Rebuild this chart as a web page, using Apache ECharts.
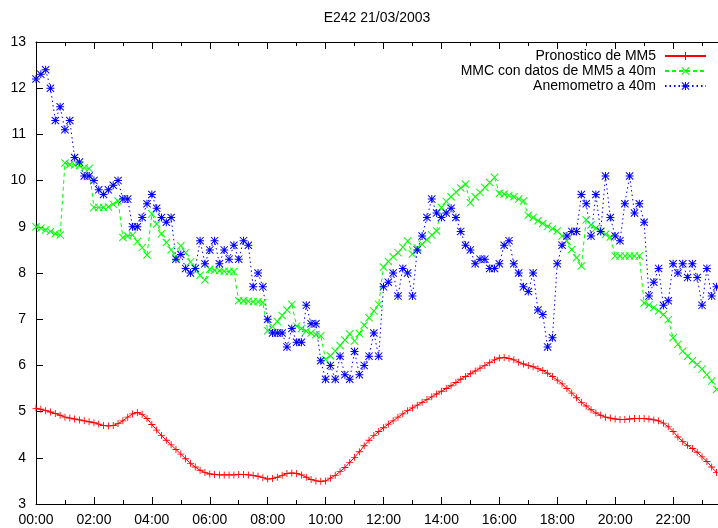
<!DOCTYPE html>
<html>
<head>
<meta charset="utf-8">
<script src="https://cdn.jsdelivr.net/npm/echarts@6/dist/echarts.min.js"></script>
<style>
  html, body { margin: 0; padding: 0; background: #fff; }
  #chart { width: 718px; height: 528px; }
</style>
</head>
<body>
<div id="chart"></div>
<script>
// readings every 10 minutes, starting at 00:00
const STEP_MIN = 10

const pronosticoMM5 = [
  5.07, 5.05, 5.02, 4.99, 4.96, 4.92,
  4.88, 4.86, 4.84, 4.82, 4.80, 4.78,
  4.76, 4.73, 4.70, 4.69, 4.70, 4.74,
  4.80, 4.88, 4.95, 4.98, 4.94, 4.85,
  4.72, 4.60, 4.48, 4.38, 4.28, 4.18,
  4.08, 3.98, 3.88, 3.80, 3.73, 3.68,
  3.65, 3.64, 3.63, 3.63, 3.63, 3.63,
  3.64, 3.64, 3.63, 3.62, 3.60, 3.57,
  3.54, 3.55, 3.58, 3.62, 3.66, 3.67,
  3.66, 3.63, 3.58, 3.53, 3.50, 3.49,
  3.50, 3.56, 3.62, 3.70, 3.79, 3.90,
  4.01, 4.13, 4.26, 4.38, 4.48, 4.57,
  4.65, 4.73, 4.80, 4.88, 4.95, 5.02,
  5.08, 5.14, 5.20, 5.26, 5.32, 5.38,
  5.44, 5.50, 5.56, 5.63, 5.70, 5.76,
  5.82, 5.88, 5.94, 6.00, 6.06, 6.12,
  6.16, 6.17, 6.15, 6.12, 6.07, 6.03,
  6.00, 5.97, 5.93, 5.89, 5.83, 5.76,
  5.68, 5.60, 5.50, 5.40, 5.30, 5.20,
  5.12, 5.04, 4.97, 4.92, 4.88, 4.86,
  4.84, 4.83, 4.83, 4.84, 4.85, 4.85,
  4.85, 4.84, 4.82, 4.80, 4.75, 4.67,
  4.57, 4.45, 4.35, 4.27, 4.20, 4.12,
  4.02, 3.92, 3.80, 3.68
]

const mmcMM5 = [
  9.00, 8.97, 8.93, 8.90, 8.85, 8.82,
  10.38, 10.35, 10.34, 10.32, 10.28, 10.26,
  9.42, 9.42, 9.42, 9.43, 9.49, 9.56,
  8.77, 8.80, 8.82, 8.68, 8.55, 8.39,
  9.28, 9.06, 8.85, 8.66, 8.50, 8.33,
  8.59, 8.44, 8.24, 8.10, 7.95, 7.85,
  8.08, 8.06, 8.05, 8.04, 8.03, 8.03,
  7.40, 7.40, 7.39, 7.38, 7.38, 7.36,
  6.75, 6.84, 6.95, 7.08, 7.20, 7.32,
  6.85, 6.80, 6.74, 6.70, 6.67, 6.64,
  6.13, 6.21, 6.31, 6.43, 6.55, 6.68,
  6.53, 6.69, 6.87, 7.03, 7.18, 7.32,
  8.13, 8.25, 8.35, 8.44, 8.56, 8.69,
  8.41, 8.54, 8.62, 8.72, 8.82, 8.91,
  9.42, 9.55, 9.65, 9.75, 9.84, 9.92,
  9.52, 9.65, 9.74, 9.85, 9.96, 10.07,
  9.72, 9.71, 9.68, 9.65, 9.60, 9.56,
  9.25, 9.20, 9.13, 9.07, 9.01, 8.96,
  8.91, 8.80, 8.69, 8.51, 8.33, 8.15,
  9.15, 9.04, 8.97, 8.90, 8.84, 8.78,
  8.37, 8.37, 8.37, 8.37, 8.37, 8.37,
  7.35, 7.31, 7.25, 7.18, 7.10, 6.99,
  6.60, 6.46, 6.31, 6.20, 6.10, 6.02,
  5.92, 5.80, 5.66, 5.48
]

const anemometro = [
  12.2, 12.3, 12.4, 12.0, 11.3, 11.6,
  11.1, 11.3, 10.5, 10.4, 10.1, 10.1,
  10.0, 9.8, 9.7, 9.8, 9.9, 10.0,
  9.6, 9.6, 9.0, 9.0, 9.2, 9.5,
  9.7, 9.4, 9.2, 9.1, 9.2, 8.3,
  8.4, 8.1, 8.0, 8.1, 8.7, 8.2,
  8.5, 8.7, 8.2, 8.5, 8.3, 8.6,
  8.3, 8.7, 8.6, 7.7, 8.0, 7.7,
  7.0, 6.7, 6.7, 6.7, 6.4, 6.8,
  6.5, 6.5, 7.3, 6.9, 6.9, 6.1,
  5.7, 6.0, 5.7, 6.2, 5.8, 5.7,
  6.3, 5.8, 6.0, 6.2, 6.7, 6.2,
  7.7, 7.8, 8.0, 7.5, 8.1, 8.0,
  7.5, 8.5, 8.8, 9.2, 9.6, 9.3,
  9.2, 9.3, 9.4, 9.2, 8.9, 8.6,
  8.5, 8.2, 8.3, 8.3, 8.1, 8.1,
  8.2, 8.6, 8.7, 8.2, 8.0, 7.7,
  7.6, 8.0, 7.2, 7.1, 6.4, 6.6,
  8.2, 8.6, 8.8, 8.9, 8.9, 9.7,
  9.5, 8.8, 9.7, 8.9, 10.1, 9.2,
  8.8, 8.7, 9.5, 10.1, 9.3, 9.5,
  9.1, 7.5, 7.8, 8.1, 7.3, 7.4,
  8.2, 8.0, 8.2, 7.9, 8.2, 7.9,
  7.3, 8.1, 7.5, 7.7
]

const seriesNames = ['Pronostico de MM5', 'MMC con datos de MM5 a 40m', 'Anemometro a 40m']
const titleText = 'E242 21/03/2003'

const FONT = '"Liberation Sans", Arial, sans-serif'

// gnuplot style point marks
const PLUS = 'path://M0,3.5H8V4.5H0Z M3.5,0H4.5V8H3.5Z'
const CROSS = 'path://M0,0.7L0.7,0L8,7.3L7.3,8Z M7.3,0L8,0.7L0.7,8L0,7.3Z'
const STAR = 'path://M0,3.5H8V4.5H0Z M3.5,0H4.5V8H3.5Z M0,0.7L0.7,0L8,7.3L7.3,8Z M7.3,0L8,0.7L0.7,8L0,7.3Z'

function hhmm(m) {
  const h = Math.floor(m / 60)
  return String(h).padStart(2, '0') + ':' + String(m % 60).padStart(2, '0')
}

function pairs(values) {
  return values.map((v, i) => [i * STEP_MIN, v])
}

function lineSeries(name, values, color, dash, symbol, size) {
  return {
    name,
    type: 'line',
    data: pairs(values),
    symbol,
    symbolSize: size,
    showAllSymbol: true,
    lineStyle: { color, width: 1, type: dash },
    itemStyle: { color },
    emphasis: { disabled: true },
    animation: false
  }
}

function legendRow(name, top) {
  return {
    data: [name],
    right: 11,
    top,
    orient: 'vertical',
    align: 'right',
    padding: 0,
    itemGap: 0,
    itemWidth: 41,
    itemHeight: 10,
    selectedMode: false,
    textStyle: { fontSize: 14, color: '#000', fontFamily: FONT, padding: [0, 4, 0, 0] }
  }
}

const axisBlack = { color: '#000', width: 1 }

const chart = echarts.init(document.getElementById('chart'), null, { renderer: 'canvas' })
chart.setOption({
  animation: false,
  backgroundColor: '#fff',
  textStyle: { fontFamily: FONT },
  grid: { left: 36, top: 42, right: -13, bottom: 24, outerBoundsMode: 'none', containLabel: false },
  graphic: [{
    type: 'text',
    x: 377,
    y: 18,
    style: {
      text: titleText,
      font: '14px ' + FONT,
      fill: '#000',
      textAlign: 'center',
      textVerticalAlign: 'middle'
    }
  }],
  legend: [
    legendRow(seriesNames[0], 49),
    legendRow(seriesNames[1], 64),
    legendRow(seriesNames[2], 79)
  ],
  xAxis: [{
    type: 'value',
    min: 0,
    max: 1440,
    interval: 120,
    position: 'bottom',
    axisLine: { show: true, onZero: false, lineStyle: axisBlack },
    axisTick: { show: true, inside: true, length: 7, lineStyle: axisBlack },
    minorTick: { show: true, splitNumber: 2, length: 4, lineStyle: axisBlack },
    splitLine: { show: false },
    axisLabel: {
      fontSize: 14,
      color: '#000',
      fontFamily: FONT,
      margin: 9,
      formatter: v => (v >= 1440 ? '' : hhmm(v))
    }
  }, {
    type: 'value',
    min: 0,
    max: 1440,
    interval: 120,
    position: 'top',
    axisLine: { show: true, onZero: false, lineStyle: axisBlack },
    axisTick: { show: true, inside: true, length: 7, lineStyle: axisBlack },
    minorTick: { show: true, splitNumber: 2, length: 4, lineStyle: axisBlack },
    splitLine: { show: false },
    axisLabel: { show: false }
  }],
  yAxis: [{
    type: 'value',
    min: 3,
    max: 13,
    interval: 1,
    axisLine: { show: true, onZero: false, lineStyle: axisBlack },
    axisTick: { show: true, inside: true, length: 7, lineStyle: axisBlack },
    splitLine: { show: false },
    axisLabel: { fontSize: 14, color: '#000', fontFamily: FONT, margin: 10 }
  }],
  series: [
    lineSeries(seriesNames[0], pronosticoMM5, '#ff0000', 'solid', PLUS, 7),
    lineSeries(seriesNames[1], mmcMM5, '#00ff00', [4, 3], CROSS, 8),
    lineSeries(seriesNames[2], anemometro, '#0000ff', [1.5, 3], STAR, 8)
  ]
})
</script>
</body>
</html>
